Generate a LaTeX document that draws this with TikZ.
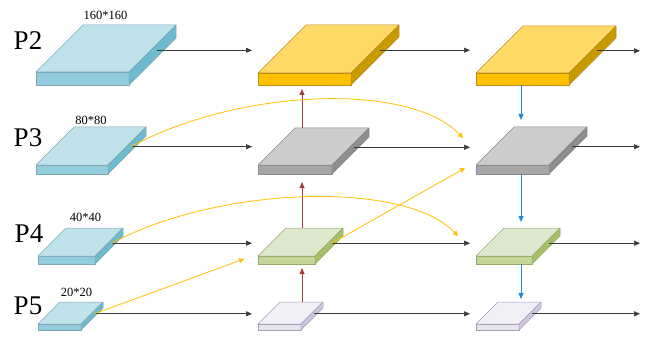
\documentclass[tikz,border=0pt]{standalone}
\usepackage{fontspec}
\setmainfont{Liberation Serif}
\usetikzlibrary{arrows.meta}

% face colours: top / front / side / edge
\definecolor{blutop}{HTML}{C0E2EB}\definecolor{blufront}{HTML}{93CDDD}
\definecolor{bluside}{HTML}{6CBBCF}\definecolor{bluedge}{HTML}{7FA6B4}
\definecolor{yeltop}{HTML}{FFD966}\definecolor{yelfront}{HTML}{FFC000}
\definecolor{yelside}{HTML}{C99A00}\definecolor{yeledge}{HTML}{B89020}
\definecolor{grytop}{HTML}{CCCCCC}\definecolor{gryfront}{HTML}{A6A6A6}
\definecolor{gryside}{HTML}{8E8E8E}\definecolor{gryedge}{HTML}{8A8A8A}
\definecolor{grntop}{HTML}{DDE9CF}\definecolor{grnfront}{HTML}{C4D79B}
\definecolor{grnside}{HTML}{A5C06A}\definecolor{grnedge}{HTML}{93AA6A}
\definecolor{lavtop}{HTML}{F2F0F7}\definecolor{lavfront}{HTML}{E8E4EE}
\definecolor{lavside}{HTML}{CFC6DF}\definecolor{lavedge}{HTML}{A69CB6}
% connector colours
\definecolor{flowblk}{HTML}{3A3A3A}
\definecolor{flowyel}{HTML}{FFC000}
\definecolor{flowred}{HTML}{A0403C}
\definecolor{flowblu}{HTML}{2288D8}

% \slab{name}{x}{y of front bottom}{width}{thickness}{depth}{colour set}
\newcommand{\slab}[7]{%
  \filldraw[draw=#7edge, fill=#7front, line width=0.5pt, line join=round]
    (#2,#3) -- ++(#4,0) -- ++(0,-#5) -- ++(-#4,0) -- cycle;
  \filldraw[draw=#7edge, fill=#7top, line width=0.5pt, line join=round]
    ({#2},{#3-#5}) -- ++(#4,0) -- ++(#6,-#6) -- ++(-#4,0) -- cycle;
  \filldraw[draw=#7edge, fill=#7side, line width=0.5pt, line join=round]
    ({#2+#4},{#3}) -- ++(#6,-#6) -- ++(0,-#5) -- ++(-#6,#6) -- cycle;
  \coordinate (#1-out)  at ({#2+#4+0.6*#6},{#3-#5/2-0.6*#6});
  \coordinate (#1-in)   at ({#2-6},{#3-#5/2});
  \coordinate (#1-back) at ({#2+#6},{#3-#5-#6});
  \coordinate (#1-base) at (#2,#3);
}

\begin{document}
\begin{tikzpicture}[x=1pt,y=-1pt,
  level/.style={font=\fontsize{27}{27}\selectfont, inner sep=0pt},
  size/.style={font=\fontsize{12.5}{12.5}\selectfont, inner sep=0pt},
  blk/.style={draw=flowblk, line width=0.7pt, -{Triangle[length=6pt,width=5pt]}},
  yel/.style={draw=flowyel, line width=0.8pt, -{Triangle[length=5pt,width=5pt]}},
  redarr/.style={draw=flowred, line width=0.8pt, -{Triangle[length=6pt,width=5pt]}},
  bluarr/.style={draw=flowblu, line width=0.8pt, -{Triangle[length=6pt,width=5pt]}}]
\useasboundingbox (0,0) rectangle (646,337);

% backbone levels
\slab{b2}{36}{85}{93}{13}{47}{blu}
\slab{b3}{36}{174}{72}{9}{38}{blu}
\slab{b4}{38}{264}{57}{8}{28}{blu}
\slab{b5}{38}{330}{43}{6}{22}{blu}

% top-down column
\slab{y2}{258}{85}{93}{12}{48}{yel}
\slab{g2}{258}{174}{74}{9}{37}{gry}
\slab{gr2}{258}{264}{57}{8}{28}{grn}
\slab{l2}{258}{330}{43}{6}{22}{lav}

% output column
\slab{y3}{476}{85}{93}{12}{47}{yel}
\slab{g3}{476}{174}{73}{9}{38}{gry}
\slab{gr3}{476}{264}{56}{8}{28}{grn}
\slab{l3}{476}{330}{43}{6}{22}{lav}

% level names and sizes
\node[level] (p2) at (28,41) {P2};
\node[level] (p3) at (28,137.5) {P3};
\node[level] (p4) at (29,234) {P4};
\node[level] (p5) at (28,306) {P5};
\node[size] (s2) at (105.5,15) {160*160};
\node[size] (s3) at (91,120.5) {80*80};
\node[size] (s4) at (85.5,217.5) {40*40};
\node[size] (s5) at (76.5,292.5) {20*20};

% free ends
\coordinate (outx) at (640,0);
\coordinate (ax2) at (302,0);
\coordinate (ax3) at (521,0);
\coordinate (g3-hi) at (463,138);
\coordinate (g3-lo) at (465,168);
\coordinate (gr3-hi) at (458,236);
\coordinate (gr2-lo) at (244,259);

% lateral connections
\draw[blk] (b2-out) -- (b2-out -| y2-in);
\draw[blk] (b3-out) -- (b3-out -| g2-in);
\draw[blk] (b4-out) -- (b4-out -| gr2-in);
\draw[blk] (b5-out) -- (b5-out -| l2-in);
\draw[blk] (y2-out) -- (y2-out -| y3-in);
\draw[blk] (g2-out) -- (g2-out -| g3-in);
\draw[blk] (gr2-out) -- (gr2-out -| gr3-in);
\draw[blk] (l2-out) -- (l2-out -| l3-in);
\draw[blk] (y3-out) -- (y3-out -| outx);
\draw[blk] (g3-out) -- (g3-out -| outx);
\draw[blk] (gr3-out) -- (gr3-out -| outx);
\draw[blk] (l3-out) -- (l3-out -| outx);

% upward path
\draw[redarr, shorten >=4pt] (g2-back -| ax2) -- (y2-base -| ax2);
\draw[redarr, shorten >=8pt] (gr2-back -| ax2) -- (g2-base -| ax2);
\draw[redarr, shorten >=4pt] (l2-back -| ax2) -- (gr2-base -| ax2);

% downward path
\draw[bluarr, shorten >=7pt] (y3-base -| ax3) -- (g3-back -| ax3);
\draw[bluarr, shorten >=6pt] (g3-base -| ax3) -- (gr3-back -| ax3);
\draw[bluarr, shorten >=3pt] (gr3-base -| ax3) -- (l3-back -| ax3);

% skip connections
\draw[yel] (b3-out) .. controls (240,88) and (410,82) .. (g3-hi);
\draw[yel] (b4-out) .. controls (218,186) and (405,180) .. (gr3-hi);
\draw[yel] (gr2-out) -- (g3-lo);
\draw[yel] (b5-out) -- (gr2-lo);
\end{tikzpicture}
\end{document}
